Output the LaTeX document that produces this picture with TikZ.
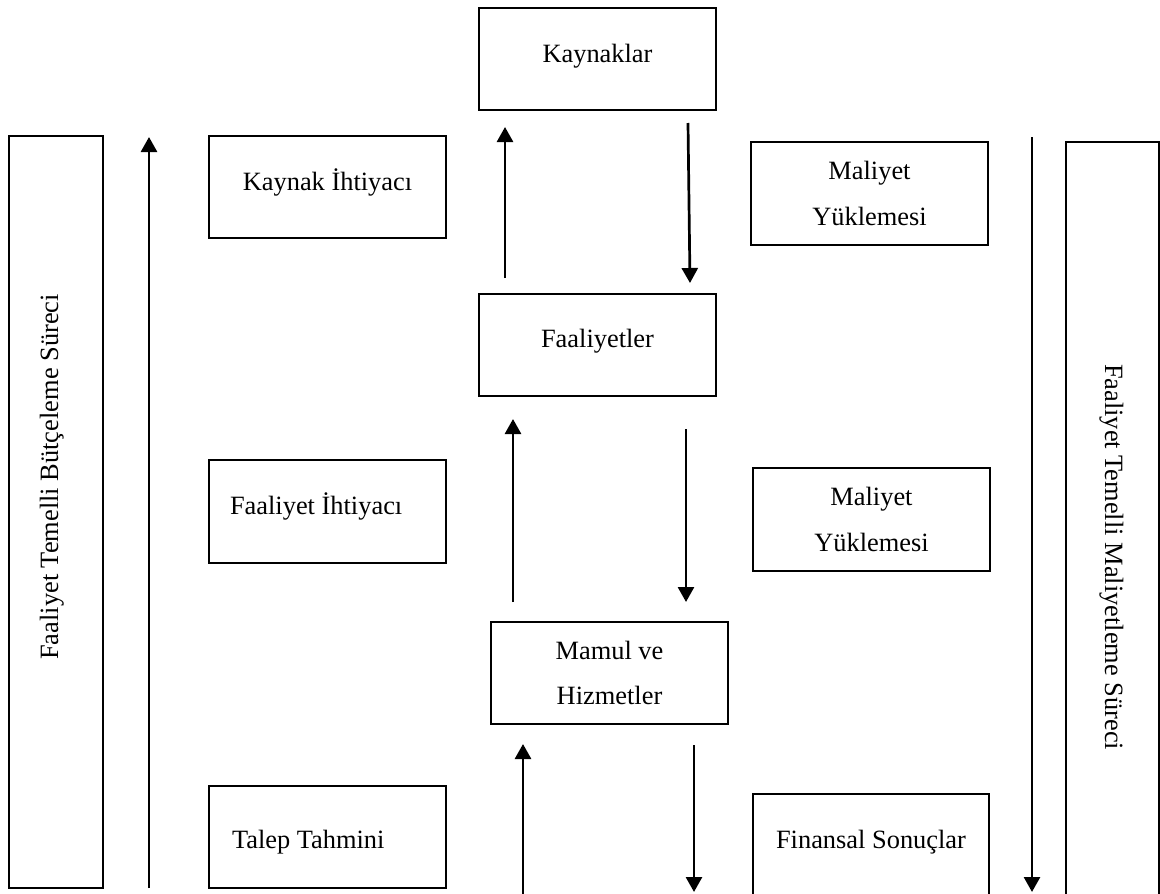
\documentclass[tikz,border=0pt]{standalone}
\usepackage{fontspec}
\setmainfont{Liberation Serif}
\usetikzlibrary{arrows.meta}

\begin{document}
\begin{tikzpicture}[x=1pt,y=-1pt,
  every node/.style={font=\fontsize{26.4}{45.5}\selectfont},
  box/.style={draw, line width=2.7pt, inner sep=0pt,
    minimum width=237pt, minimum height=102pt},
  tall/.style={draw, line width=2.7pt, inner sep=0pt},
  shiftline/.style={text height=#1, text depth=0pt},
  arr/.style={line width=2.7pt, -{Triangle[width=16pt,length=15pt]}},
]
\clip (0,0) rectangle (1160,894);
\fill[white] (0,0) rectangle (1160,894);

% central chain
\node[box, shiftline=6pt] (kaynaklar) at (597.5,59) {Kaynaklar};
\node[box, shiftline=4pt] (faaliyetler) at (597.5,345) {Faaliyetler};
\node[box, align=center] (mamul) at (609.5,673) {Mamul ve\\Hizmetler};

% budgeting side
\node[box, shiftline=6pt] (kaynakiht) at (327.5,187) {Kaynak İhtiyacı};
\node[box, minimum height=103pt, text width=195pt, align=flush left,
      shiftline=5pt] (faaliht) at (327.5,511.5) {Faaliyet İhtiyacı};
\node[box, text width=191pt, align=flush left, shiftline=22pt]
      (talep) at (327.5,837) {Talep Tahmini};

% costing side
\node[box, minimum height=103pt, align=center] (maliyet1) at (869.5,193.5)
      {Maliyet\\Yüklemesi};
\node[box, minimum height=103pt, align=center] (maliyet2) at (871.5,519.5)
      {Maliyet\\Yüklemesi};
\node[box, minimum width=236pt, shiftline=6pt] (finansal) at (871,845)
      {Finansal Sonuçlar};

% process frames
\node[tall, minimum width=94pt, minimum height=752pt] (leftbox) at (56,512) {};
\node[tall, minimum width=93pt, minimum height=758pt] (rightbox) at (1112.5,521) {};
\node[rotate=90, anchor=base] (lefttxt) at (58,477)
      {Faaliyet Temelli Bütçeleme Süreci};
\node[rotate=-90, anchor=base] (righttxt) at (1105,557)
      {Faaliyet Temelli Maliyetleme Süreci};

% arrow end points
\coordinate (lup0) at (149,888);  \coordinate (lup1) at (149,137);
\coordinate (rdn0) at (1032,137); \coordinate (rdn1) at (1032,892);
\coordinate (u1a) at (505,278);   \coordinate (u1b) at (505,127);
\coordinate (d1a) at (688,123);   \coordinate (d1b) at (690,283);
\coordinate (u2a) at (513,602);   \coordinate (u2b) at (513,419);
\coordinate (d2a) at (686,429);   \coordinate (d2b) at (686,602);
\coordinate (u3a) at (523,900);   \coordinate (u3b) at (523,744);
\coordinate (d3a) at (694,745);   \coordinate (d3b) at (694,892);

\draw[arr] (lup0) -- (lup1);
\draw[arr] (rdn0) -- (rdn1);
\draw[arr] (u1a) -- (u1b);
\draw[arr] (d1a) -- (d1b);
\draw[arr] (u2a) -- (u2b);
\draw[arr] (d2a) -- (d2b);
\draw[arr] (u3a) -- (u3b);
\draw[arr] (d3a) -- (d3b);
\end{tikzpicture}
\end{document}
